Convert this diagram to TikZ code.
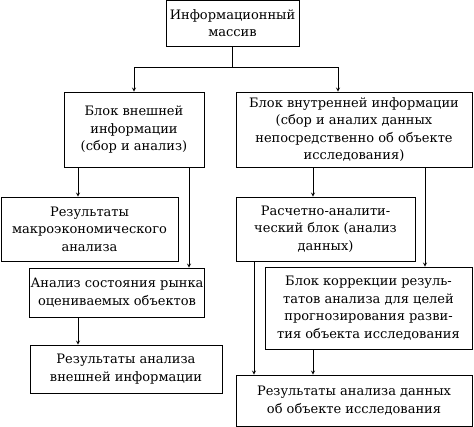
\documentclass[tikz,border=0pt]{standalone}
\usepackage{fontspec}
\setmainfont{DejaVu Serif}
\usetikzlibrary{arrows}
\tikzstyle{block} = [rectangle, draw=black, line width=0.8pt, align=center, inner sep=1pt,
font=\fontsize{13}{17.5}\selectfont]
\tikzstyle{arrow} = [line width=0.8pt,->,>=stealth]

\begin{document}
\begin{tikzpicture}[x=1pt, y=-1pt]
  \useasboundingbox (0,0) rectangle (474,426);

  \node (info) [block, minimum width=133pt, minimum height=46pt] at (232.5,23) {Информационный\\массив};

  \node (ext) [block, minimum width=140pt, minimum height=75pt] at (134,129.5) {Блок внешней\\информации\\(сбор и анализ)};
  \node (int) [block, minimum width=236pt, minimum height=75pt] at (354,129.5) {Блок внутренней информации\\(сбор и аналих данных\\непосредственно об объекте\\исследования)};

  \node (macro) [block, minimum width=177pt, minimum height=64pt] at (89.5,229) {Результаты\\макроэкономического\\анализа};
  \node (market) [block, minimum width=174pt, minimum height=49pt] at (117,292.5) {Анализ состояния рынка\\оцениваемых объектов};
  \node (extres) [block, minimum width=192pt, minimum height=48pt] at (126,369) {Результаты анализа\\внешней информации};

  \node (calc) [block, minimum width=179pt, minimum height=64pt] at (325.5,229) {Расчетно-аналити-\\ческий блок (анализ\\данных)};
  \node (corr) [block, minimum width=207pt, minimum height=82pt] at (368.5,308) {Блок коррекции резуль-\\татов анализа для целей\\прогнозирования разви-\\тия объекта исследования};
  \node (intres) [block, minimum width=236pt, minimum height=51pt] at (354,400.5) {Результаты анализа данных\\об объекте исследования};

  \coordinate (split) at ([yshift=-21pt]info.south);
  \draw [line width=0.8pt] (info.south) -- (split);
  \draw [arrow] (split) -| (ext.north);
  \draw [arrow] (split) -| ([xshift=-16pt]int.north);

  \coordinate (extL) at ([xshift=-56pt]ext.south);
  \coordinate (extR) at ([xshift=55pt]ext.south);
  \coordinate (mktL) at ([xshift=-39pt]market.south);
  \draw [arrow] (extL) -- (extL |- macro.north);
  \draw [arrow] (extR) -- (extR |- market.north);
  \draw [arrow] (mktL) -- (mktL |- extres.north);

  \coordinate (intL) at ([xshift=-41pt]int.south);
  \coordinate (intR) at ([xshift=71pt]int.south);
  \coordinate (calcL) at ([xshift=-71.5pt]calc.south);
  \coordinate (corrL) at ([xshift=-55.5pt]corr.south);
  \draw [arrow] (intL) -- (intL |- calc.north);
  \draw [arrow] (intR) -- (intR |- corr.north);
  \draw [arrow] (calcL) -- (calcL |- intres.north);
  \draw [arrow] (corrL) -- (corrL |- intres.north);

\end{tikzpicture}
\end{document}
